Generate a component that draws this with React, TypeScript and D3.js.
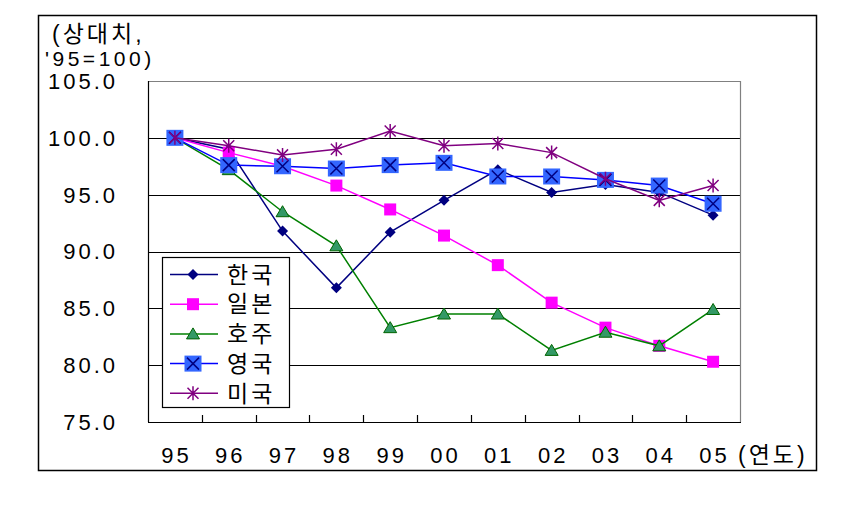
import React from "react";
import * as d3 from "d3";

const years = ["95", "96", "97", "98", "99", "00", "01", "02", "03", "04", "05"];
const yTicks = [75, 80, 85, 90, 95, 100, 105];
const korea = [100, 99.0, 91.8, 86.8, 91.7, 94.5, 97.2, 95.2, 95.9, 95.2, 93.2];
const japan = [100, 98.7, 97.5, 95.8, 93.7, 91.4, 88.8, 85.5, 83.3, 81.7, 80.3];
const australia = [100, 97.2, 93.5, 90.5, 83.3, 84.5, 84.5, 81.3, 82.9, 81.7, 84.9];
const uk = [100, 97.6, 97.5, 97.3, 97.6, 97.8, 96.6, 96.6, 96.3, 95.8, 94.2];
const usa = [100, 99.3, 98.5, 99.0, 100.6, 99.3, 99.5, 98.7, 96.4, 94.5, 95.8];
const seriesNames = ["한국", "일본", "호주", "영국", "미국"];

const W = 867;
const H = 510;
const L = 148, R = 740, T = 81, B = 422;
const FONT = "'Liberation Sans', 'Noto Sans CJK KR', sans-serif";

type Kind = "diamond" | "square" | "triangle" | "ukx" | "star";

const series: { name: string; values: number[]; color: string; kind: Kind }[] = [
  { name: seriesNames[0], values: korea, color: "#000080", kind: "diamond" },
  { name: seriesNames[1], values: japan, color: "#FF00FF", kind: "square" },
  { name: seriesNames[2], values: australia, color: "#008000", kind: "triangle" },
  { name: seriesNames[3], values: uk, color: "#0000FF", kind: "ukx" },
  { name: seriesNames[4], values: usa, color: "#800080", kind: "star" },
];

function Marker({ kind, x, y }: { kind: Kind; x: number; y: number }) {
  switch (kind) {
    case "diamond":
      return <path d={`M${x},${y - 5.5}L${x + 5.5},${y}L${x},${y + 5.5}L${x - 5.5},${y}Z`} fill="#000080" />;
    case "square":
      return <rect x={x - 6} y={y - 6} width={12} height={12} fill="#FF00FF" />;
    case "triangle":
      return (
        <path
          d={`M${x},${y - 6}L${x + 6.5},${y + 5}L${x - 6.5},${y + 5}Z`}
          fill="#339966"
          stroke="#006400"
          strokeWidth={1}
        />
      );
    case "ukx":
      return (
        <g>
          <rect x={x - 8.5} y={y - 8} width={17} height={16} fill="#3366FF" />
          <path d={`M${x - 6},${y - 6}L${x + 6},${y + 6}M${x + 6},${y - 6}L${x - 6},${y + 6}`} stroke="#000080" strokeWidth={1.5} />
        </g>
      );
    case "star":
      return (
        <path
          d={`M${x - 5.5},${y - 5.5}L${x + 5.5},${y + 5.5}M${x + 5.5},${y - 5.5}L${x - 5.5},${y + 5.5}M${x},${y - 7}L${x},${y + 7}`}
          stroke="#800080"
          strokeWidth={1.5}
        />
      );
  }
}

export default function App() {
  const xb = d3.scaleBand<string>().domain(years).range([L, R]);
  const cx = (d: string) => (xb(d) as number) + xb.bandwidth() / 2;
  const y = d3.scaleLinear().domain([75, 105]).range([B, T]);
  const line = d3
    .line<number>()
    .x((_, i) => cx(years[i]))
    .y((v) => y(v));

  const legendX = 162, legendY = 257, legendW = 127, legendH = 150;
  const rowY = (i: number) => 274.5 + i * 29.7;

  return (
    <svg width={W} height={H} style={{ display: "block", position: "absolute", left: 0, top: 0 }}>
      <rect x={0} y={0} width={W} height={H} fill="#fff" />
      <rect x={38.5} y={15.5} width={778} height={455} fill="none" stroke="#000" strokeWidth={1.5} />

      {/* title */}
      <text x={52} y={42} fontFamily={FONT} fontSize={23} letterSpacing={3} fill="#000">(상대치,</text>
      <text x={45} y={66} fontFamily={FONT} fontSize={21} letterSpacing={3.5} fill="#000">'95=100)</text>

      {/* gridlines */}
      {yTicks.filter((t) => t > 75 && t < 105).map((t) => (
        <line key={t} x1={L} x2={R} y1={Math.round(y(t)) + 0.5} y2={Math.round(y(t)) + 0.5} stroke="#000" strokeWidth={1.2} />
      ))}
      {/* plot border */}
      <line x1={L} x2={R} y1={T + 0.5} y2={T + 0.5} stroke="#808080" strokeWidth={1.2} />
      <line x1={R + 0.5} x2={R + 0.5} y1={T} y2={B} stroke="#808080" strokeWidth={1.2} />
      <line x1={L + 0.5} x2={L + 0.5} y1={T} y2={B} stroke="#000" strokeWidth={1.2} />
      <line x1={L} x2={R + 1} y1={B + 0.5} y2={B + 0.5} stroke="#000" strokeWidth={1.2} />
      {years.slice(1).map((d) => (
        <line key={d} x1={Math.round(xb(d) as number) + 0.5} x2={Math.round(xb(d) as number) + 0.5} y1={B} y2={B - 7} stroke="#000" strokeWidth={1.2} />
      ))}

      {/* y labels */}
      {yTicks.map((t) => (
        <text key={t} x={118} y={y(t)} dy="0.36em" textAnchor="end" fontFamily={FONT} fontSize={22} letterSpacing={3} fill="#000">
          {t.toFixed(1)}
        </text>
      ))}
      {/* x labels */}
      {years.map((d) => (
        <text key={d} x={cx(d) + 1.5} y={463} textAnchor="middle" fontFamily={FONT} fontSize={22} letterSpacing={3} fill="#000">
          {d}
        </text>
      ))}
      <text x={738} y={463} fontFamily={FONT} fontSize={23} letterSpacing={3} fill="#000">(연도)</text>

      {/* series */}
      {series.map((s) => (
        <g key={s.name}>
          <path d={line(s.values) as string} fill="none" stroke={s.color} strokeWidth={1.5} />
          {s.values.map((v, i) => (
            <Marker key={i} kind={s.kind} x={cx(years[i])} y={y(v)} />
          ))}
        </g>
      ))}

      {/* legend */}
      <rect x={legendX + 0.5} y={legendY + 0.5} width={legendW} height={legendH} fill="#fff" stroke="#000" strokeWidth={1.2} />
      {series.map((s, i) => (
        <g key={s.name}>
          <line x1={170} x2={218} y1={rowY(i)} y2={rowY(i)} stroke={s.color} strokeWidth={1.5} />
          <Marker kind={s.kind} x={193} y={rowY(i)} />
          <text x={227} y={rowY(i)} dy="0.36em" fontFamily={FONT} fontSize={23} letterSpacing={3} fill="#000">
            {s.name}
          </text>
        </g>
      ))}
    </svg>
  );
}
